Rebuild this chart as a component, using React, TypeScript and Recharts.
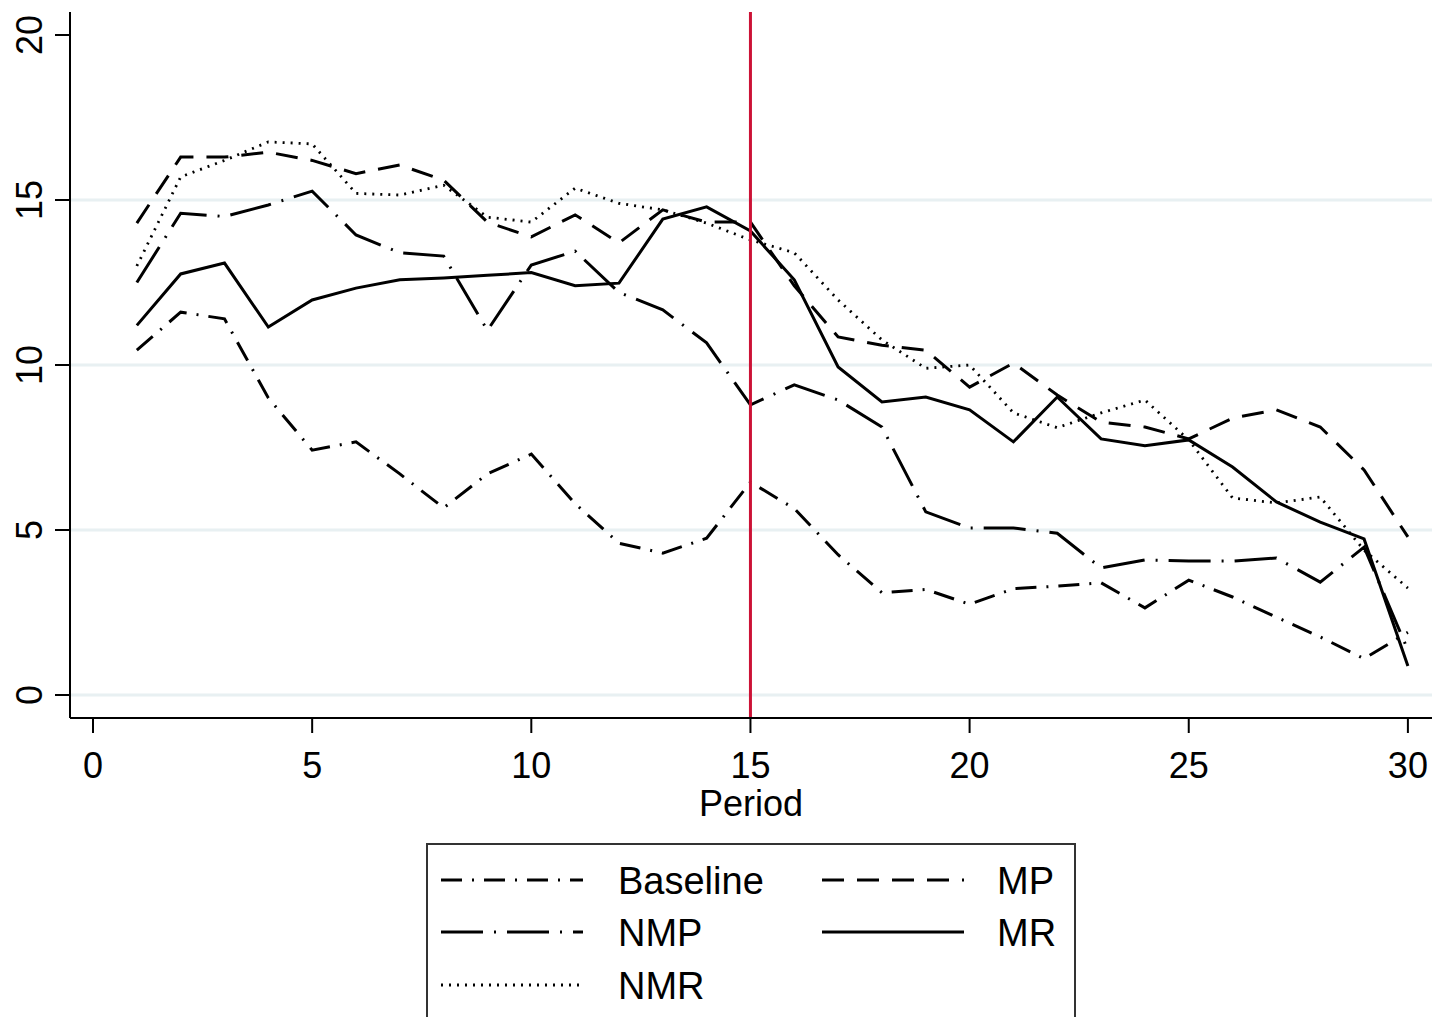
import React from "react";
import { LineChart, Line, XAxis, YAxis, CartesianGrid, ReferenceLine } from "recharts";

const periods = [1, 2, 3, 4, 5, 6, 7, 8, 9, 10, 11, 12, 13, 14, 15, 16, 17, 18, 19, 20, 21, 22, 23, 24, 25, 26, 27, 28, 29, 30];

const baseline = [10.45, 11.6, 11.4, 9.0, 7.42, 7.67, 6.7, 5.67, 6.7, 7.3, 5.8, 4.6, 4.3, 4.75, 6.45, 5.65, 4.25, 3.1, 3.2, 2.75, 3.22, 3.3, 3.4, 2.64, 3.48, 2.97, 2.36, 1.76, 1.1, 1.9];
const nmp = [12.5, 14.6, 14.5, 14.85, 15.27, 13.94, 13.4, 13.3, 11.05, 13.03, 13.45, 12.2, 11.67, 10.67, 8.79, 9.4, 8.94, 8.12, 5.55, 5.06, 5.06, 4.9, 3.85, 4.09, 4.06, 4.06, 4.15, 3.42, 4.48, 1.36];
const nmr = [13.0, 15.7, 16.2, 16.76, 16.7, 15.2, 15.15, 15.45, 14.48, 14.33, 15.36, 14.9, 14.7, 14.3, 13.79, 13.4, 11.97, 10.76, 9.9, 10.0, 8.55, 8.1, 8.55, 8.94, 7.73, 5.97, 5.82, 6.0, 4.39, 3.24];
const mp = [14.3, 16.3, 16.3, 16.45, 16.2, 15.8, 16.06, 15.6, 14.33, 13.88, 14.55, 13.7, 14.7, 14.33, 14.33, 12.4, 10.85, 10.6, 10.45, 9.33, 10.06, 9.09, 8.27, 8.12, 7.76, 8.39, 8.64, 8.12, 6.82, 4.79];
const mr = [11.2, 12.76, 13.09, 11.15, 11.97, 12.33, 12.58, 12.64, 12.72, 12.8, 12.4, 12.48, 14.42, 14.79, 14.06, 12.58, 9.94, 8.88, 9.03, 8.64, 7.67, 9.03, 7.76, 7.55, 7.73, 6.91, 5.85, 5.24, 4.73, 0.88];

const xTicks = [0, 5, 10, 15, 20, 25, 30];
const yTicks = [0, 5, 10, 15, 20];
const gridValues = [0, 5, 10, 15];

const data = periods.map((p, i) => ({
  period: p,
  Baseline: baseline[i],
  NMP: nmp[i],
  NMR: nmr[i],
  MP: mp[i],
  MR: mr[i],
}));

const FONT = '"Liberation Sans", Arial, sans-serif';

// line styles (Stata-like patterns)
const series = [
  { key: "Baseline", dash: "21 10 2 10", width: 3 },
  { key: "MP", dash: "22 13", width: 3 },
  { key: "NMP", dash: "42 11 2 11", width: 3 },
  { key: "MR", dash: undefined, width: 3 },
  { key: "NMR", dash: "2 6", width: 2.8 },
];

const YTick = (props: any) => {
  const { x, y, payload } = props;
  return (
    <text
      x={x}
      y={y}
      transform={`rotate(-90 ${x} ${y})`}
      textAnchor="middle"
      fontSize={36}
      fontFamily={FONT}
      fill="#000"
    >
      {payload.value}
    </text>
  );
};

function LegendBox() {
  const rows = [
    ["Baseline", "MP"],
    ["NMP", "MR"],
    ["NMR", null],
  ];
  const keyY = [880, 932, 985];
  return (
    <div
      style={{
        position: "absolute",
        left: 426,
        top: 843,
        width: 650,
        height: 220,
        border: "2px solid #333",
        boxSizing: "border-box",
        background: "#fff",
      }}
    >
      <svg width={650} height={220} style={{ position: "absolute", left: -2, top: -2 }}>
        {rows.map((row, r) =>
          row.map((name, c) => {
            if (!name) return null;
            const s = series.find((d) => d.key === name)!;
            const x0 = c === 0 ? 15 : 396;
            const tx = c === 0 ? 192 : 571;
            const y = keyY[r] - 843;
            return (
              <g key={name}>
                <line
                  x1={x0}
                  x2={x0 + 142}
                  y1={y}
                  y2={y}
                  stroke="#000"
                  strokeWidth={s.width}
                  strokeDasharray={s.dash}
                />
                <text x={tx} y={y + 14} fontSize={38} fontFamily={FONT} fill="#000">
                  {name}
                </text>
              </g>
            );
          })
        )}
      </svg>
    </div>
  );
}

export default function App() {
  return (
    <div
      style={{
        position: "absolute",
        left: 0,
        top: 0,
        width: 1444,
        height: 1017,
        background: "#fff",
        overflow: "hidden",
      }}
    >
      <LineChart
        width={1444}
        height={1017}
        data={data}
        margin={{ top: 12, right: 12, left: 0, bottom: 201 }}
      >
        <CartesianGrid
          vertical={false}
          horizontalValues={gridValues}
          stroke="#e8f0f2"
          strokeWidth={3}
          strokeDasharray=""
        />
        <XAxis
          dataKey="period"
          type="number"
          domain={[-0.525, 30.55]}
          ticks={xTicks}
          allowDataOverflow
          height={98}
          tickSize={15}
          tickMargin={19}
          axisLine={{ stroke: "#000", strokeWidth: 2 }}
          tickLine={{ stroke: "#000", strokeWidth: 2 }}
          tick={{ fontSize: 36, fill: "#000", fontFamily: FONT }}
          label={{
            value: "Period",
            position: "insideBottom",
            offset: 0,
            fontSize: 36,
            fill: "#000",
            fontFamily: FONT,
          }}
        />
        <YAxis
          type="number"
          domain={[-0.697, 20.697]}
          ticks={yTicks}
          allowDataOverflow
          width={70}
          tickSize={15}
          tickMargin={13}
          axisLine={{ stroke: "#000", strokeWidth: 2 }}
          tickLine={{ stroke: "#000", strokeWidth: 2 }}
          tick={<YTick />}
        />
        {series.map((s) => (
          <Line
            key={s.key}
            type="linear"
            dataKey={s.key}
            stroke="#000"
            strokeWidth={s.width}
            strokeDasharray={s.dash}
            dot={false}
            activeDot={false}
            isAnimationActive={false}
          />
        ))}
        <ReferenceLine x={15} stroke="#cc1236" strokeWidth={3} />
      </LineChart>
      <LegendBox />
    </div>
  );
}
